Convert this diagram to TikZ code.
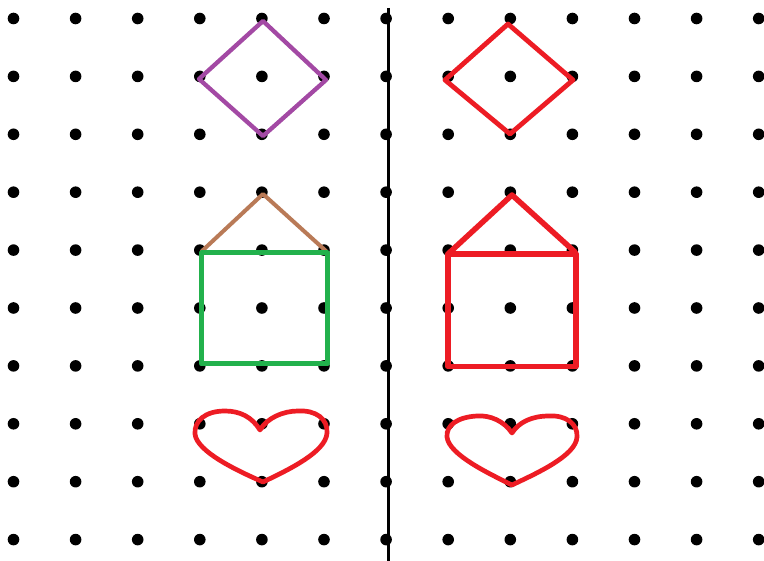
\documentclass[tikz,border=0pt]{standalone}
\begin{document}
\begin{tikzpicture}[x=1pt,y=-1pt,
  griddot/.style={fill=black,draw=none},
  shape line/.style={line width=#1,line cap=round,line join=round},
  mirror/.style={line width=3pt,black}]
\definecolor{ppurple}{HTML}{A349A4}
\definecolor{pred}{HTML}{ED1C24}
\definecolor{pgreen}{HTML}{22B14C}
\definecolor{pbrown}{HTML}{B97A57}
\useasboundingbox[fill=white] (0,0) rectangle (764,561);
% dot grid
\foreach \i in {0,...,12}{
  \foreach \j in {0,...,9}{
    \fill[griddot] ({13.5+62.1*\i},{18.5+57.9*\j}) circle (5.8);
  }
}
% mirror line
\coordinate (mtop) at (388,8);
\coordinate (mbot) at (388,561);
\draw[mirror] (mtop) -- (mbot);
% left diamond
\draw[shape line=4.3pt,ppurple] (263,21) -- (326,80) -- (263,136) -- (199,79) -- cycle;
% right diamond
\draw[shape line=4.8pt,pred] (508,24) -- (573,80) -- (510,134) -- (445,80) -- cycle;
% left house
\draw[shape line=4pt,pbrown] (202,251) -- (263,194) -- (326,251);
\draw[shape line=5pt,pgreen] (201.5,253) rectangle (327,364);
% right house
\draw[shape line=5.5pt,pred] (449,253) -- (512,195) -- (575,252);
\draw[shape line=5.8pt,pred] (448,254) rectangle (576,366.5);
% left heart
\draw[shape line=4.7pt,pred]
  (260,430) .. controls (252,417) and (240,411) .. (225,411)
  .. controls (205,411) and (194,421) .. (195,434)
  .. controls (197,452) and (238,471) .. (263,482)
  .. controls (288,470) and (326,452) .. (327,433)
  .. controls (328,419) and (316,410) .. (298,411)
  .. controls (283,411) and (267,418) .. (260,430) -- cycle;
% right heart
\draw[shape line=4.7pt,pred]
  (512,433) .. controls (504,421) and (490,415) .. (477,416)
  .. controls (458,417) and (446,425) .. (447,437)
  .. controls (449,455) and (490,474) .. (512,485)
  .. controls (535,474) and (576,456) .. (577,437)
  .. controls (578,424) and (566,415) .. (549,416)
  .. controls (532,416) and (519,422) .. (512,433) -- cycle;
\end{tikzpicture}
\end{document}
